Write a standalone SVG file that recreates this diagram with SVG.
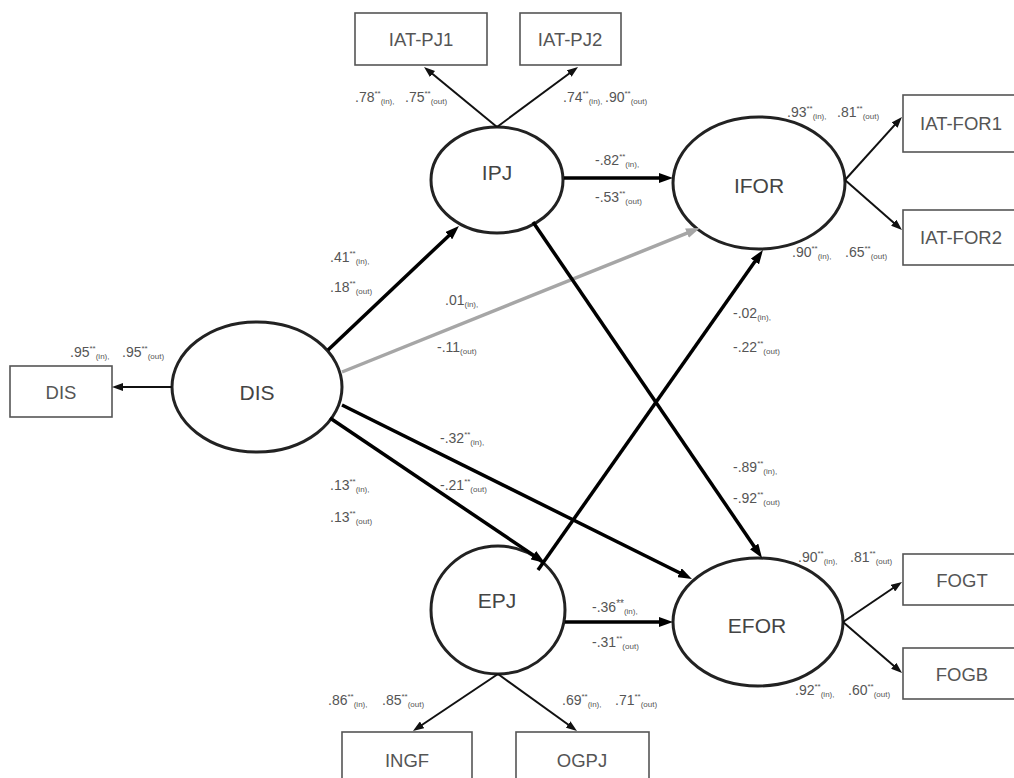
<svg xmlns="http://www.w3.org/2000/svg" width="1014" height="778" viewBox="0 0 1014 778">
<style>
.bg{fill:#fff}
.lat{fill:#fff;stroke:#222;stroke-width:3}
.obs{fill:#fff;stroke:#555;stroke-width:1.6}
.ln{font-family:"Liberation Sans",Arial,sans-serif;font-size:21px;fill:#444;text-anchor:middle}
.bn{font-family:"Liberation Sans",Arial,sans-serif;font-size:18.5px;fill:#555;text-anchor:middle}
.path{fill:none;stroke:#000;stroke-width:3.5}
.gpath{fill:none;stroke:#a6a6a6;stroke-width:3.5}
.meas{fill:none;stroke:#111;stroke-width:2}
.v{font-family:"Liberation Sans",Arial,sans-serif;font-size:14px;fill:#555}
.s{font-size:8px}
</style>
<defs>
<marker id="ah" markerUnits="userSpaceOnUse" markerWidth="14" markerHeight="10" refX="4" refY="5" orient="auto"><path d="M0,0 L14,5 L0,10 z" fill="#000"/></marker>
<marker id="ahg" markerUnits="userSpaceOnUse" markerWidth="14" markerHeight="10" refX="4" refY="5" orient="auto"><path d="M0,0 L14,5 L0,10 z" fill="#a6a6a6"/></marker>
<marker id="am" markerUnits="userSpaceOnUse" markerWidth="11" markerHeight="8" refX="3" refY="4" orient="auto"><path d="M0,0 L11,4 L0,8 z" fill="#111"/></marker>
</defs>
<rect class="bg" x="0" y="0" width="1014" height="778"/>

<g id="node-IAT-PJ1"><rect class="obs" x="355" y="13" width="132" height="52"/><text class="bn" x="421" y="46">IAT-PJ1</text></g>
<g id="node-IAT-PJ2"><rect class="obs" x="520" y="13" width="101" height="52"/><text class="bn" x="570" y="46">IAT-PJ2</text></g>
<g id="node-IAT-FOR1"><rect class="obs" x="903" y="95" width="120" height="57"/><text class="bn" x="961" y="130">IAT-FOR1</text></g>
<g id="node-IAT-FOR2"><rect class="obs" x="903" y="210" width="120" height="55"/><text class="bn" x="961" y="244">IAT-FOR2</text></g>
<g id="node-DIS-obs"><rect class="obs" x="10" y="366" width="102" height="51"/><text class="bn" x="61" y="399">DIS</text></g>
<g id="node-FOGT"><rect class="obs" x="903" y="554" width="120" height="51"/><text class="bn" x="962" y="587">FOGT</text></g>
<g id="node-FOGB"><rect class="obs" x="903" y="648" width="120" height="51"/><text class="bn" x="962" y="681">FOGB</text></g>
<g id="node-INGF"><rect class="obs" x="342" y="732" width="130" height="60"/><text class="bn" x="407" y="767">INGF</text></g>
<g id="node-OGPJ"><rect class="obs" x="516" y="732" width="133" height="60"/><text class="bn" x="582" y="767">OGPJ</text></g>

<g id="node-IPJ"><ellipse class="lat" cx="497" cy="180" rx="66" ry="53"/><text class="ln" x="497" y="180">IPJ</text></g>
<g id="node-IFOR"><ellipse class="lat" cx="759" cy="183" rx="86" ry="66"/><text class="ln" x="759" y="193">IFOR</text></g>
<g id="node-DIS"><ellipse class="lat" cx="257" cy="387" rx="85" ry="65"/><text class="ln" x="257" y="400">DIS</text></g>
<g id="node-EPJ"><ellipse class="lat" cx="498" cy="610" rx="67" ry="64"/><text class="ln" x="497" y="608">EPJ</text></g>
<g id="node-EFOR"><ellipse class="lat" cx="758" cy="622" rx="85" ry="64"/><text class="ln" x="757" y="633">EFOR</text></g>

<g id="connectors">
<line class="path" x1="328" y1="350" x2="451.7" y2="232.9" marker-end="url(#ah)"/>
<line class="gpath" x1="342" y1="372" x2="690.7" y2="231.7" marker-end="url(#ahg)"/>
<line class="path" x1="330" y1="418" x2="536.7" y2="557.4" marker-end="url(#ah)"/>
<line class="path" x1="342" y1="405" x2="683" y2="574.5" marker-end="url(#ah)"/>
<line class="path" x1="564" y1="178" x2="663" y2="178" marker-end="url(#ah)"/>
<line class="path" x1="533" y1="222" x2="756.4" y2="549.7" marker-end="url(#ah)"/>
<line class="path" x1="538" y1="570" x2="757.2" y2="258.2" marker-end="url(#ah)"/>
<line class="path" x1="565" y1="622" x2="663" y2="622" marker-end="url(#ah)"/>
<line class="meas" x1="497" y1="127" x2="430.2" y2="72.1" marker-end="url(#am)"/>
<line class="meas" x1="497" y1="127" x2="571.6" y2="71.8" marker-end="url(#am)"/>
<line class="meas" x1="845" y1="180" x2="896.6" y2="122.9" marker-end="url(#am)"/>
<line class="meas" x1="845" y1="180" x2="896" y2="224.7" marker-end="url(#am)"/>
<line class="meas" x1="172" y1="387" x2="120" y2="387" marker-end="url(#am)"/>
<line class="meas" x1="843" y1="622" x2="895.4" y2="586.5" marker-end="url(#am)"/>
<line class="meas" x1="843" y1="622" x2="896" y2="667.8" marker-end="url(#am)"/>
<line class="meas" x1="498" y1="674" x2="419.6" y2="726.5" marker-end="url(#am)"/>
<line class="meas" x1="498" y1="674" x2="570.5" y2="726.3" marker-end="url(#am)"/>
</g>

<g id="labels">
<text class="v" x="355" y="102">.78<tspan class="s" dy="-6">**</tspan><tspan class="s" dy="8">(in),</tspan></text>
<text class="v" x="405" y="102">.75<tspan class="s" dy="-6">**</tspan><tspan class="s" dy="8">(out)</tspan></text>
<text class="v" x="563" y="102">.74<tspan class="s" dy="-6">**</tspan><tspan class="s" dy="8">(in),</tspan></text>
<text class="v" x="605" y="102">.90<tspan class="s" dy="-6">**</tspan><tspan class="s" dy="8">(out)</tspan></text>

<text class="v" x="595" y="165">-.82<tspan class="s" dy="-6">**</tspan><tspan class="s" dy="8">(in),</tspan></text>
<text class="v" x="595" y="202">-.53<tspan class="s" dy="-6">**</tspan><tspan class="s" dy="8">(out)</tspan></text>

<text class="v" x="787" y="117">.93<tspan class="s" dy="-6">**</tspan><tspan class="s" dy="8">(in),</tspan></text>
<text class="v" x="837" y="117">.81<tspan class="s" dy="-6">**</tspan><tspan class="s" dy="8">(out)</tspan></text>
<text class="v" x="792" y="257">.90<tspan class="s" dy="-6">**</tspan><tspan class="s" dy="8">(in),</tspan></text>
<text class="v" x="845" y="257">.65<tspan class="s" dy="-6">**</tspan><tspan class="s" dy="8">(out)</tspan></text>

<text class="v" x="70" y="357">.95<tspan class="s" dy="-6">**</tspan><tspan class="s" dy="8">(in),</tspan></text>
<text class="v" x="122" y="357">.95<tspan class="s" dy="-6">**</tspan><tspan class="s" dy="8">(out)</tspan></text>

<text class="v" x="330" y="262">.41<tspan class="s" dy="-6">**</tspan><tspan class="s" dy="8">(in),</tspan></text>
<text class="v" x="330" y="292">.18<tspan class="s" dy="-6">**</tspan><tspan class="s" dy="8">(out)</tspan></text>

<text class="v" x="445" y="305">.01<tspan class="s" dy="2">(in),</tspan></text>
<text class="v" x="437" y="352">-.11<tspan class="s" dy="2">(out)</tspan></text>

<text class="v" x="733" y="318">-.02<tspan class="s" dy="2">(in),</tspan></text>
<text class="v" x="733" y="352">-.22<tspan class="s" dy="-6">**</tspan><tspan class="s" dy="8">(out)</tspan></text>

<text class="v" x="440" y="443">-.32<tspan class="s" dy="-6">**</tspan><tspan class="s" dy="8">(in),</tspan></text>
<text class="v" x="440" y="490">-.21<tspan class="s" dy="-6">**</tspan><tspan class="s" dy="8">(out)</tspan></text>

<text class="v" x="330" y="490">.13<tspan class="s" dy="-6">**</tspan><tspan class="s" dy="8">(in),</tspan></text>
<text class="v" x="330" y="522">.13<tspan class="s" dy="-6">**</tspan><tspan class="s" dy="8">(out)</tspan></text>

<text class="v" x="733" y="472">-.89<tspan class="s" dy="-6">**</tspan><tspan class="s" dy="8">(in),</tspan></text>
<text class="v" x="733" y="503">-.92<tspan class="s" dy="-6">**</tspan><tspan class="s" dy="8">(out)</tspan></text>

<text class="v" x="798" y="562">.90<tspan class="s" dy="-6">**</tspan><tspan class="s" dy="8">(in),</tspan></text>
<text class="v" x="850" y="562">.81<tspan class="s" dy="-6">**</tspan><tspan class="s" dy="8">(out)</tspan></text>

<text class="v" x="592" y="612">-.36<tspan font-size="10px" dy="-5">**</tspan><tspan class="s" dy="7">(in),</tspan></text>
<text class="v" x="592" y="647">-.31<tspan class="s" dy="-6">**</tspan><tspan class="s" dy="8">(out)</tspan></text>

<text class="v" x="795" y="695">.92<tspan class="s" dy="-6">**</tspan><tspan class="s" dy="8">(in),</tspan></text>
<text class="v" x="848" y="695">.60<tspan class="s" dy="-6">**</tspan><tspan class="s" dy="8">(out)</tspan></text>

<text class="v" x="328" y="705">.86<tspan class="s" dy="-6">**</tspan><tspan class="s" dy="8">(in),</tspan></text>
<text class="v" x="382" y="705">.85<tspan class="s" dy="-6">**</tspan><tspan class="s" dy="8">(out)</tspan></text>
<text class="v" x="562" y="705">.69<tspan class="s" dy="-6">**</tspan><tspan class="s" dy="8">(in),</tspan></text>
<text class="v" x="615" y="705">.71<tspan class="s" dy="-6">**</tspan><tspan class="s" dy="8">(out)</tspan></text>
</g>
</svg>
